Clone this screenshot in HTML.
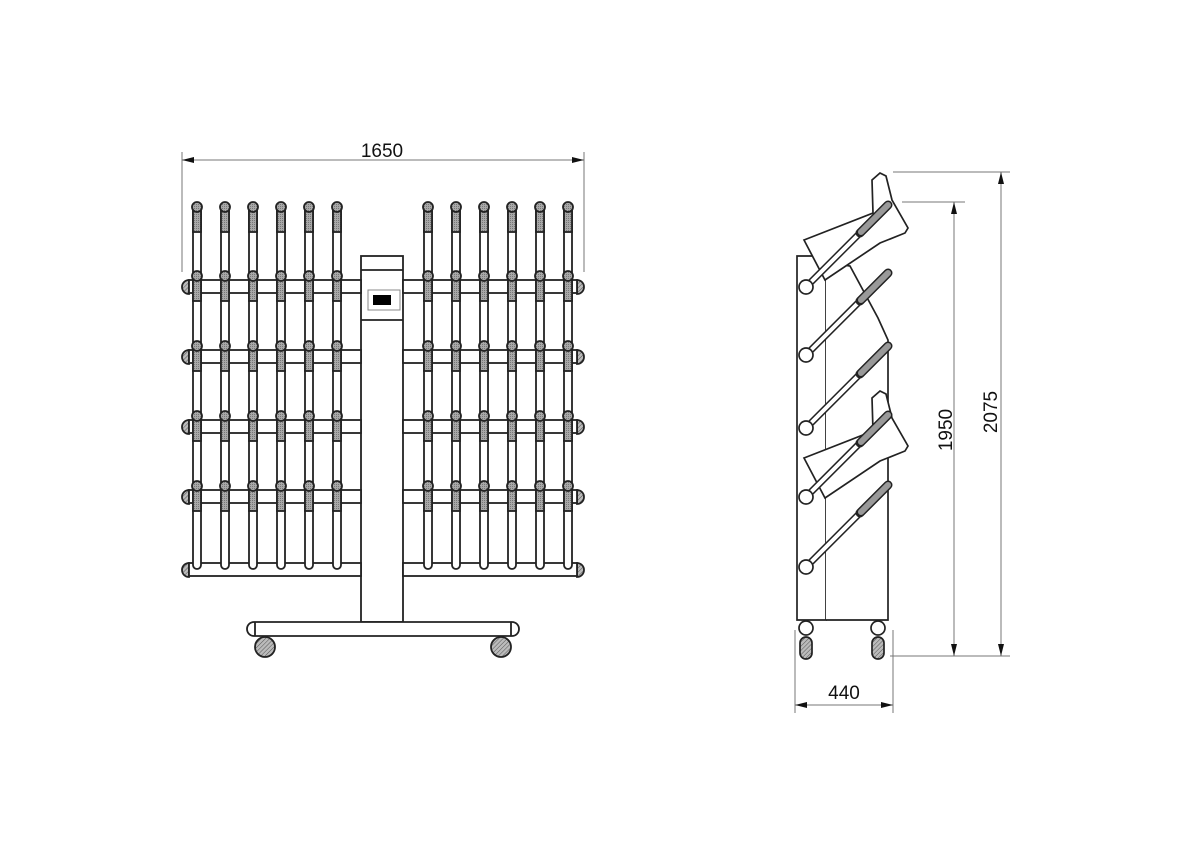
<!DOCTYPE html>
<html><head><meta charset="utf-8"><style>
html,body{margin:0;padding:0;background:#fff;width:1200px;height:848px;overflow:hidden}
svg{display:block}
text{font-family:"Liberation Sans",sans-serif;fill:#111}
</style></head><body>
<svg id="s" width="1200" height="848" viewBox="0 0 1200 848" xmlns="http://www.w3.org/2000/svg">
<defs>
<pattern id="h" width="3" height="3" patternUnits="userSpaceOnUse" patternTransform="rotate(45)"><rect width="3" height="3" fill="#bbb"/><line x1="0" y1="0" x2="0" y2="3" stroke="#555" stroke-width="1"/></pattern>
<pattern id="g" width="2" height="2" patternUnits="userSpaceOnUse"><rect width="2" height="2" fill="#a8a8a8"/><rect width="1" height="1" fill="#777"/></pattern>
<marker id="a" markerWidth="12" markerHeight="6" refX="12" refY="3" orient="auto-start-reverse" markerUnits="userSpaceOnUse"><path d="M0,0 L12,3 L0,6 z" fill="#111"/></marker>
</defs>
<g id="front" stroke="#222" stroke-width="1.8" fill="#fff"></g>
<g id="side" stroke="#222" stroke-width="1.7" fill="#fff"></g>
<g stroke="#777" stroke-width="1" fill="none">
<line x1="182" y1="152" x2="182" y2="272"/><line x1="584" y1="152" x2="584" y2="272"/>
<line x1="182" y1="160" x2="584" y2="160" marker-start="url(#a)" marker-end="url(#a)"/>
<line x1="893" y1="172" x2="1010" y2="172"/><line x1="902" y1="202" x2="965" y2="202"/><line x1="890" y1="656" x2="1010" y2="656"/>
<line x1="954" y1="202" x2="954" y2="656" marker-start="url(#a)" marker-end="url(#a)"/>
<line x1="1001" y1="172" x2="1001" y2="656" marker-start="url(#a)" marker-end="url(#a)"/>
<line x1="795" y1="630" x2="795" y2="713"/><line x1="893" y1="630" x2="893" y2="713"/>
<line x1="795" y1="705" x2="893" y2="705" marker-start="url(#a)" marker-end="url(#a)"/>
</g>
<text x="382" y="157" font-size="19" text-anchor="middle">1650</text>
<text x="844" y="699" font-size="19" text-anchor="middle">440</text>
<text transform="translate(952,430) rotate(-90)" font-size="19" text-anchor="middle">1950</text>
<text transform="translate(997,412) rotate(-90)" font-size="19" text-anchor="middle">2075</text>
</svg>
<script>
const NS="http://www.w3.org/2000/svg";
function el(p,t,a){const e=document.createElementNS(NS,t);for(const k in a)e.setAttribute(k,a[k]);p.appendChild(e);return e;}
const F=document.getElementById("front");
const rails=[280,350,420,490,563];
el(F,"rect",{x:361,y:256,width:42,height:366});
el(F,"line",{x1:361,y1:270,x2:403,y2:270});
el(F,"line",{x1:361,y1:320,x2:403,y2:320});
el(F,"rect",{x:368,y:290,width:32,height:20,stroke:"#888","stroke-width":1});
el(F,"rect",{x:373,y:295,width:18,height:10,fill:"#000",stroke:"none"});
rails.forEach(y=>{
 el(F,"path",{d:`M189,${y} a7,7 0 0 0 0,14 z`,fill:"url(#h)"});
 el(F,"path",{d:`M577,${y} a7,7 0 0 1 0,14 z`,fill:"url(#h)"});
 [[189,361],[403,577]].forEach(([a,b])=>{el(F,"rect",{x:a,y:y,width:b-a,height:13});});
});
const xs=[197,225,253,281,309,337,428,456,484,512,540,568];
xs.forEach(x=>{
 el(F,"path",{d:`M${x-4},208 L${x-4},565 a4,4 0 0 0 8,0 L${x+4},208`});
 el(F,"rect",{x:x-4,y:206,width:8,height:26,fill:"url(#g)"});
 el(F,"circle",{cx:x,cy:207,r:5,fill:"url(#g)"});
 rails.slice(0,4).forEach(y=>{
  el(F,"rect",{x:x-4,y:y-5,width:8,height:26,fill:"url(#g)"});
  el(F,"circle",{cx:x,cy:y-4,r:5,fill:"url(#g)"});
 });
});
el(F,"rect",{x:247,y:622,width:272,height:14,rx:7});
el(F,"line",{x1:255,y1:622,x2:255,y2:636});el(F,"line",{x1:511,y1:622,x2:511,y2:636});
el(F,"circle",{cx:265,cy:647,r:10,fill:"url(#h)"});
el(F,"circle",{cx:501,cy:647,r:10,fill:"url(#h)"});
const S=document.getElementById("side");
el(S,"path",{d:"M797,256 L826,256 L826,620 L797,620 Z"});
el(S,"path",{d:"M826,620 L888,620 L888,340 L878,318 L850,266 L826,262"});
function boot(dy){
 el(S,"path",{d:`M804,${240+dy} L873,${213+dy} L872,${180+dy} L880,${173+dy} L886,${176+dy} L892,${200+dy} L908,${228+dy} L905,${233+dy} L880,${243+dy} L825,${280+dy} Z`});
}
boot(0);boot(218);
const balls=[287,355,428,497,567];
balls.forEach(y=>{
 const x0=806,x1=888,y1=y-82;
 el(S,"line",{x1:x0,y1:y,x2:x1,y2:y1,"stroke-width":7,stroke:"#222","stroke-linecap":"round"});
 el(S,"line",{x1:x0,y1:y,x2:x1,y2:y1,"stroke-width":4,stroke:"#fff","stroke-linecap":"round"});
 el(S,"line",{x1:x0+54,y1:y-54,x2:x1,y2:y1,"stroke-width":9,stroke:"#222","stroke-linecap":"round"});
 el(S,"line",{x1:x0+55,y1:y-55,x2:x1,y2:y1,"stroke-width":6,stroke:"#999","stroke-linecap":"round"});
 el(S,"circle",{cx:x0,cy:y,r:7});
});
[806,878].forEach(x=>{
 el(S,"circle",{cx:x,cy:628,r:7});
 el(S,"rect",{x:x-6,y:637,width:12,height:22,rx:6,fill:"url(#h)"});
});
</script>
</body></html>
